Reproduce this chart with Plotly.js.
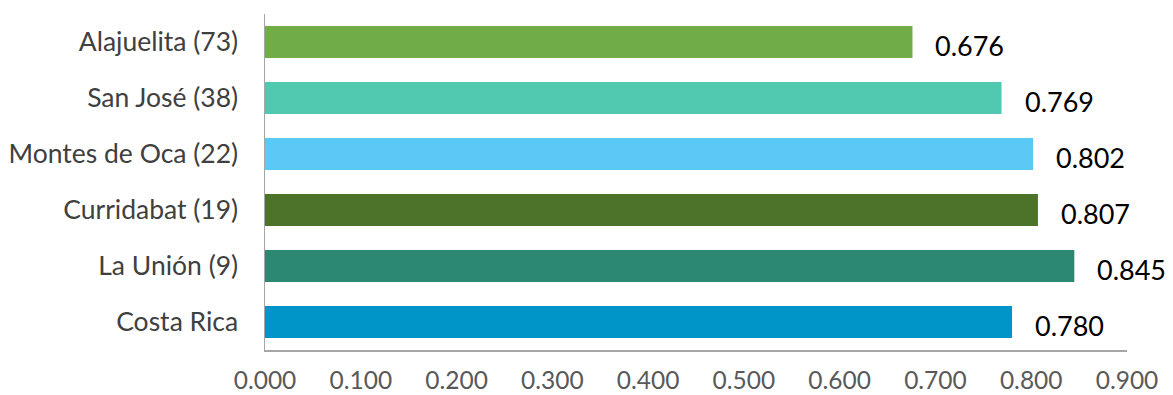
<!DOCTYPE html>
<html>
<head>
<meta charset="utf-8">
<script src="https://cdn.plot.ly/plotly-3.0.1.min.js"></script>
<style>html,body{margin:0;padding:0;background:#fff;}#chart{width:1173px;height:395px;}</style>
</head>
<body>
<div id="chart"></div>
<script>
const categories = ["Alajuelita (73)", "San José (38)", "Montes de Oca (22)", "Curridabat (19)", "La Unión (9)", "Costa Rica"];
const values = [0.676, 0.769, 0.802, 0.807, 0.845, 0.780];
const barColors = ["#70AD47", "#50C9B0", "#5BC9F6", "#4B7329", "#2D8872", "#0095C9"];
const xTickVals = [0, 0.1, 0.2, 0.3, 0.4, 0.5, 0.6, 0.7, 0.8, 0.9];

const font = "Lato, 'Open Sans', sans-serif";

const trace = {
  type: 'bar',
  orientation: 'h',
  y: categories,
  x: values,
  marker: {color: barColors, line: {width: 0}},
  width: 0.57,
  hoverinfo: 'none'
};

const annotations = values.map((v, i) => ({
  x: v, y: categories[i], xref: 'x', yref: 'y',
  text: v.toFixed(3), showarrow: false,
  xanchor: 'left', xshift: 21, yshift: -3,
  font: {family: font, size: 27, color: '#000000'}
}));

const layout = {
  width: 1173, height: 395,
  margin: {l: 265, r: 46, t: 14, b: 45},
  paper_bgcolor: '#ffffff', plot_bgcolor: '#ffffff',
  showlegend: false,
  xaxis: {
    range: [0, 0.9], tickvals: xTickVals,
    ticktext: xTickVals.map(v => v.toFixed(3)),
    showgrid: false, zeroline: false,
    showline: true, linecolor: '#a6a6a6', linewidth: 1.5,
    ticks: 'outside', ticklen: 8, tickcolor: 'rgba(0,0,0,0)',
    tickfont: {family: font, size: 24.5, color: '#595959'},
    fixedrange: true
  },
  yaxis: {
    autorange: 'reversed',
    showgrid: false, zeroline: false,
    showline: true, linecolor: '#a6a6a6', linewidth: 1.5,
    ticks: 'outside', ticklen: 20, tickcolor: 'rgba(0,0,0,0)',
    tickfont: {family: font, size: 26.5, color: '#404040'},
    fixedrange: true
  },
  annotations: annotations
};

Plotly.newPlot('chart', [trace], layout, {displayModeBar: false, staticPlot: true});
</script>
</body>
</html>
